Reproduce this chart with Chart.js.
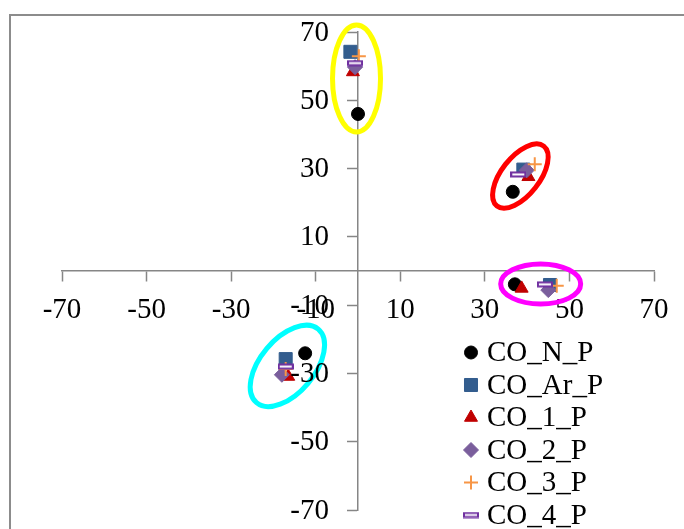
<!DOCTYPE html>
<html lang="en">
<head>
  <meta charset="utf-8">
  <title>CO scatter</title>
  <script src="https://cdn.jsdelivr.net/npm/chart.js@4.4.1/dist/chart.umd.min.js"></script>
  <style>
    body { margin: 0; background: #fff; }
    #myChart { display: block; }
  </style>
</head>
<body>
  <canvas id="myChart" width="684" height="529"></canvas>
  <script>
    // series names (legend order)
    const seriesNames = ['CO_N_P', 'CO_Ar_P', 'CO_1_P', 'CO_2_P', 'CO_3_P', 'CO_4_P'];

    // values: one point per cluster (top, right, lower right, lower left)
    const coNx = [0.0, 36.6, 37.1, -12.5];
    const coNy = [46.0, 23.2, -3.9, -24.1];
    const coArx = [-1.8, 39.1, 45.4, -17.1];
    const coAry = [64.2, 29.7, -4.1, -25.8];
    const co1x = [-1.2, 40.3, 38.7, -16.5];
    const co1y = [58.3, 27.6, -5.1, -30.9];
    const co2x = [-0.7, 39.9, 45.0, -18.0];
    const co2y = [59.7, 29.5, -5.6, -30.4];
    const co3x = [0.2, 41.8, 47.0, -17.1];
    const co3y = [62.9, 31.3, -4.3, -28.7];
    const co4x = [-0.7, 37.9, 44.2, -17.1];
    const co4y = [60.9, 28.3, -3.9, -28.0];

    const axisMin = -70;
    const axisMax = 70;
    const axisStep = 20;

    const FONT = "'Liberation Serif', 'Times New Roman', serif";

    // the little purple "dash" marker Excel uses
    const dashMark = document.createElement('canvas');
    dashMark.width = 16;
    dashMark.height = 7;
    (function () {
      const c = dashMark.getContext('2d');
      c.fillStyle = '#ffffff';
      c.fillRect(1, 1, 14, 5);
      c.strokeStyle = '#7030A0';
      c.lineWidth = 2;
      c.strokeRect(1, 1.5, 14, 4);
    })();

    const styles = [
      { pointStyle: 'circle', radius: 6.5, bg: '#000000', border: '#000000', bw: 1 },
      { pointStyle: 'rect', radius: 9.2, bg: '#335D8E', border: '#335D8E', bw: 1 },
      { pointStyle: 'triangle', radius: 7.5, bg: '#C00000', border: '#C00000', bw: 1 },
      { pointStyle: 'rectRot', radius: 7.5, bg: '#7A5E9C', border: '#7A5E9C', bw: 1 },
      { pointStyle: 'cross', radius: 7, bg: '#F79646', border: '#F79646', bw: 2 },
      { pointStyle: dashMark, radius: 7, bg: '#7030A0', border: '#7030A0', bw: 1 }
    ];

    const xs = [coNx, coArx, co1x, co2x, co3x, co4x];
    const ys = [coNy, coAry, co1y, co2y, co3y, co4y];

    // ellipses circling the four clusters: centre in data units, radii in pixels
    const highlights = [
      { cx: -0.35, cy: 56.4, rx: 24, ry: 53.5, angle: 0, color: '#FFFF00' },
      { cx: 38.4, cy: 27.8, rx: 38, ry: 19, angle: -52, color: '#FF0000' },
      { cx: 43.2, cy: -3.8, rx: 40, ry: 20, angle: 0, color: '#FF00FF' },
      { cx: -16.7, cy: -27.8, rx: 48, ry: 27, angle: -50, color: '#00FFFF' }
    ];

    const datasets = seriesNames.map(function (name, i) {
      return {
        label: name,
        data: xs[i].map(function (x, j) { return { x: x, y: ys[i][j] }; }),
        pointStyle: styles[i].pointStyle,
        pointRadius: styles[i].radius,
        pointHoverRadius: styles[i].radius,
        backgroundColor: styles[i].bg,
        borderColor: styles[i].border,
        pointBorderWidth: styles[i].bw,
        order: seriesNames.length - i
      };
    });

    const framePlugin = {
      id: 'frame',
      beforeDraw(chart) {
        const ctx = chart.ctx;
        ctx.save();
        ctx.strokeStyle = '#8c8c8c';
        ctx.lineWidth = 2;
        ctx.strokeRect(10, 15, chart.width + 20, chart.height + 20);
        ctx.restore();
      }
    };

    // y tick labels sit left of the crossing axis, past the tick marks
    const yLabelPlugin = {
      id: 'yLabels',
      afterDraw(chart) {
        const ctx = chart.ctx;
        const sx = chart.scales.x;
        const sy = chart.scales.y;
        const right = sx.getPixelForValue(0) - 10 - 19;
        ctx.save();
        ctx.fillStyle = '#000000';
        ctx.font = '29px ' + FONT;
        ctx.textAlign = 'right';
        ctx.textBaseline = 'middle';
        sy.ticks.forEach(function (t) {
          ctx.fillText(String(t.value), right, sy.getPixelForValue(t.value) + 1);
        });
        ctx.restore();
      }
    };

    const ellipsePlugin = {
      id: 'ellipses',
      afterDatasetsDraw(chart) {
        const ctx = chart.ctx;
        const sx = chart.scales.x;
        const sy = chart.scales.y;
        ctx.save();
        highlights.forEach(function (h) {
          ctx.beginPath();
          ctx.ellipse(sx.getPixelForValue(h.cx), sy.getPixelForValue(h.cy), h.rx, h.ry,
            h.angle * Math.PI / 180, 0, Math.PI * 2);
          ctx.strokeStyle = h.color;
          ctx.lineWidth = 5;
          ctx.stroke();
        });
        ctx.restore();
      }
    };

    const legendPlugin = {
      id: 'cornerLegend',
      afterDraw(chart) {
        const ctx = chart.ctx;
        const x0 = 471;
        const y0 = 352.5;
        const rowH = 32.5;
        ctx.save();
        seriesNames.forEach(function (name, i) {
          const y = y0 + i * rowH;
          const s = styles[i];
          ctx.fillStyle = s.bg;
          ctx.strokeStyle = s.border;
          ctx.lineWidth = s.bw;
          if (Chart.helpers && Chart.helpers.drawPoint) {
            Chart.helpers.drawPoint(ctx, { pointStyle: s.pointStyle, radius: s.radius, rotation: 0, borderWidth: s.bw }, x0, y);
          }
          ctx.fillStyle = '#000000';
          ctx.font = '29px ' + FONT;
          ctx.textAlign = 'left';
          ctx.textBaseline = 'middle';
          ctx.fillText(name, x0 + 16, y + 1);
        });
        ctx.restore();
      }
    };

    const axisCommon = {
      type: 'linear',
      min: axisMin,
      max: axisMax,
      border: { color: '#868686', width: 1.5 },
      grid: {
        drawOnChartArea: false,
        drawTicks: true,
        tickLength: 10,
        tickWidth: 1.5,
        tickColor: '#868686'
      }
    };

    new Chart(document.getElementById('myChart'), {
      type: 'scatter',
      data: { datasets: datasets },
      options: {
        responsive: false,
        animation: false,
        layout: { padding: { left: 62, right: 30, top: 32, bottom: 19 } },
        plugins: {
          legend: { display: false },
          tooltip: { enabled: false }
        },
        scales: {
          x: Object.assign({}, axisCommon, {
            position: { y: 0 },
            ticks: {
              stepSize: axisStep,
              autoSkip: false,
              maxRotation: 0,
              padding: 12,
              color: '#000000',
              font: { family: FONT, size: 29 }
            }
          }),
          y: Object.assign({}, axisCommon, {
            position: { x: 0 },
            ticks: {
              stepSize: axisStep,
              autoSkip: false,
              display: false
            }
          })
        }
      },
      plugins: [framePlugin, ellipsePlugin, yLabelPlugin, legendPlugin]
    });
  </script>
</body>
</html>
